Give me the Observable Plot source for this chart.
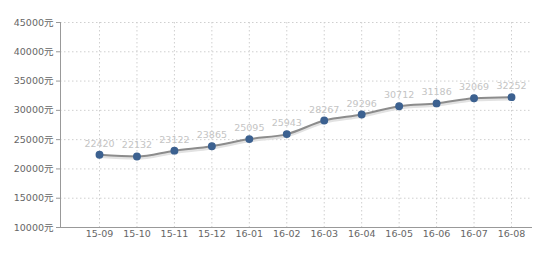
<!DOCTYPE html>
<html>
<head>
<meta charset="utf-8">
<script src="https://cdn.jsdelivr.net/npm/d3@7"></script>
<script src="https://cdn.jsdelivr.net/npm/@observablehq/plot@0.6"></script>
<style>
  html, body { margin: 0; padding: 0; background: #fff; }
  #chart svg { display: block; }
</style>
</head>
<body>
<div id="chart"></div>
<script>
const months = ["15-09","15-10","15-11","15-12","16-01","16-02","16-03","16-04","16-05","16-06","16-07","16-08"];
const prices = [22420, 22132, 23122, 23865, 25095, 25943, 28267, 29296, 30712, 31186, 32069, 32252];
const yTicks = [10000, 15000, 20000, 25000, 30000, 35000, 40000, 45000];

const data = months.map((m, i) => ({month: m, price: prices[i]}));
const font = "'DejaVu Sans', 'Noto Sans CJK SC', sans-serif";

const chart = Plot.plot({
  width: 550,
  height: 256,
  marginLeft: 60,
  marginRight: 18,
  marginTop: 22,
  marginBottom: 29,
  style: {fontFamily: font, fontSize: "9px", background: "#fff"},
  x: {type: "point", domain: months, range: [99, 511], padding: 0, round: false, label: null},
  y: {domain: [10000, 45000], label: null},
  marks: [
    Plot.ruleY(yTicks.filter(d => d > 10000), {stroke: "#cfcfcf", strokeDasharray: "1.5,2.5", strokeOpacity: 1}),
    Plot.ruleX(months, {stroke: "#cfcfcf", strokeDasharray: "1.5,2.5", strokeOpacity: 1}),
    Plot.axisY({ticks: yTicks, tickFormat: d => d + "元", tickSize: 4, tickPadding: 3, stroke: "#999", fill: "#666", fontSize: 9.5, label: null}),
    Plot.axisX({tickSize: 0, tickPadding: 3, fill: "#666", fontSize: 9.5, label: null}),
    Plot.frame({anchor: "left", stroke: "#999", strokeWidth: 1}),
    Plot.ruleY([10000], {stroke: "#999", strokeWidth: 1}),
    Plot.line(data, {x: "month", y: "price", curve: "monotone-x", stroke: "#e2e2e2", strokeWidth: 3.5, dy: 1.5}),
    Plot.line(data, {x: "month", y: "price", curve: "monotone-x", stroke: "#8c8c8c", strokeWidth: 2}),
    Plot.dot(data, {x: "month", y: "price", r: 3.2, fill: "#3c6190", stroke: "#3c6190"}),
    Plot.text(data, {x: "month", y: "price", text: d => String(d.price), dy: -11, fill: "#c4c4c4", fontSize: 9.5})
  ]
});
document.getElementById("chart").appendChild(chart);
</script>
</body>
</html>
